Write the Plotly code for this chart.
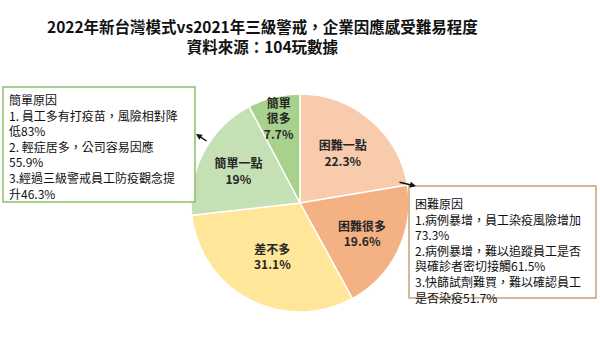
import plotly.graph_objects as go

# Survey shares (%) – clockwise from 12 o'clock
categories = ["困難一點", "困難很多", "差不多", "簡單一點", "簡單很多"]
shares = [22.3, 19.6, 31.1, 19, 7.7]
slice_labels = ["困難一點", "困難很多", "差不多", "簡單一點", "簡單<br>很多"]
slice_colors = ["#F8CBAD", "#F4B183", "#FFE699", "#C5E0B4", "#A9D18E"]

title_lines = ["2022年新台灣模式vs2021年三級警戒，企業因應感受難易程度",
               "資料來源：104玩數據"]

easy_reasons = ["簡單原因",
                "1. 員工多有打疫苗，風險相對降",
                "低83%",
                "2. 輕症居多，公司容易因應",
                "55.9%",
                "3.經過三級警戒員工防疫觀念提",
                "升46.3%"]
hard_reasons = ["困難原因",
                "1.病例暴增，員工染疫風險增加",
                "73.3%",
                "2.病例暴增，難以追蹤員工是否",
                "與確診者密切接觸61.5%",
                "3.快篩試劑難買，難以確認員工",
                "是否染疫51.7%"]

W, H = 600, 338
FONT = "Noto Sans CJK TC"


def px(x):
    return x / W


def py(y):
    return 1 - y / H


cx, cy, r = 300, 203, 109

fig = go.Figure(go.Pie(
    labels=categories,
    values=shares,
    text=slice_labels,
    texttemplate="<b>%{text}<br>%{value}%</b>",
    textinfo="text",
    textposition="inside",
    insidetextorientation="horizontal",
    textfont=dict(family=FONT, size=12, color="#262626"),
    marker=dict(colors=slice_colors, line=dict(color="white", width=1.5)),
    sort=False,
    direction="clockwise",
    rotation=0,
    showlegend=False,
    hoverinfo="label+value",
    domain=dict(x=[px(cx - r), px(cx + r)], y=[py(cy + r), py(cy - r)]),
))

shapes = [
    dict(type="rect", xref="paper", yref="paper",
         x0=px(3), x1=px(195), y0=py(202), y1=py(87),
         line=dict(color="#8DBF6A", width=1.5), fillcolor="white"),
    dict(type="rect", xref="paper", yref="paper",
         x0=px(409), x1=px(596), y0=py(298), y1=py(186),
         line=dict(color="#C9A27A", width=1.5), fillcolor="white"),
]

annotations = [
    dict(text="<b>" + "<br>".join(title_lines) + "</b>",
         xref="paper", yref="paper", x=px(262), y=py(13),
         xanchor="center", yanchor="top", showarrow=False, align="center",
         font=dict(family=FONT, size=15.5, color="#111111")),
    dict(text="<br>".join(easy_reasons),
         xref="paper", yref="paper", x=px(7), y=py(89),
         xanchor="left", yanchor="top", showarrow=False, align="left",
         font=dict(family=FONT, size=12, color="#111111")),
    dict(text="<br>".join(hard_reasons),
         xref="paper", yref="paper", x=px(413), y=py(193),
         xanchor="left", yanchor="top", showarrow=False, align="left",
         font=dict(family=FONT, size=12, color="#111111")),
    # pointer arrows linking the boxes to the pie halves
    dict(text="", xref="paper", yref="paper", x=px(196), y=py(134),
         ax=12, ay=8, showarrow=True, arrowhead=2, arrowsize=0.8,
         arrowwidth=1.5, arrowcolor="#111111"),
    dict(text="", xref="paper", yref="paper", x=px(416), y=py(186),
         ax=-18, ay=-4, showarrow=True, arrowhead=2, arrowsize=0.8,
         arrowwidth=1.5, arrowcolor="#111111"),
]

fig.update_layout(
    width=W, height=H,
    margin=dict(l=0, r=0, t=0, b=0),
    paper_bgcolor="white", plot_bgcolor="white",
    shapes=shapes, annotations=annotations,
    uniformtext=dict(minsize=12, mode="show"),
)

fig.write_html("out.html")
